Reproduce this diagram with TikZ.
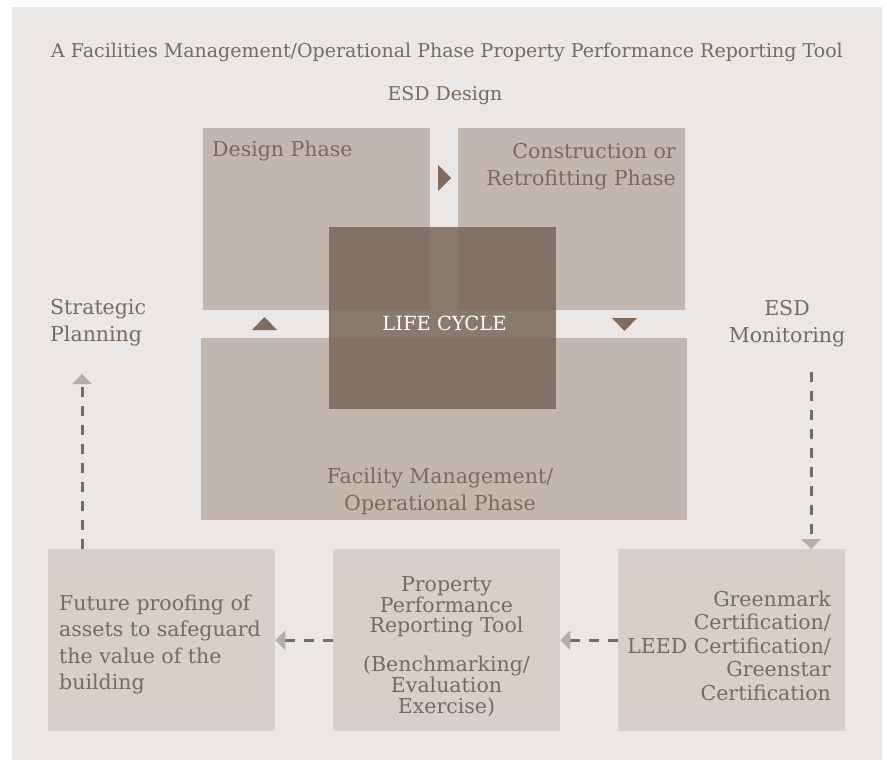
\documentclass[tikz,border=0pt]{standalone}
\usepackage{fontspec}
\setmainfont{DejaVu Serif}
\usetikzlibrary{arrows.meta}

\definecolor{page}{HTML}{FFFFFF}
\definecolor{panel}{HTML}{EBE7E4}
\definecolor{phase}{HTML}{C2B7AE}
\definecolor{core}{HTML}{766557}
\definecolor{lowbox}{HTML}{D6CFCA}
\definecolor{ink}{HTML}{7A6A5D}
\definecolor{marker}{HTML}{7E6C5F}
\definecolor{dashink}{HTML}{6E6C6C}
\definecolor{tipfill}{HTML}{B8ADA4}

\begin{document}
\begin{tikzpicture}[x=1pt,y=-1pt,
  block/.style={draw=none, inner sep=0pt, anchor=north west,
    minimum width=227pt, minimum height=182pt},
  phasebox/.style={block, fill=phase},
  stagebox/.style={block, fill=lowbox},
  corebox/.style={block, fill=core, fill opacity=0.83},
  % multi-line labels are placed by the baseline of their last line
  txt/.style={inner sep=0pt, text=ink, font=\fontsize{20.5}{27}\selectfont},
  headtxt/.style={inner sep=0pt, text=ink, font=\fontsize{19}{22}\selectfont},
  conn/.style={draw=dashink, line width=3pt, dash pattern=on 10pt off 9pt,
    -{Triangle[length=10pt, width=20pt, color=tipfill, line width=0pt]}},
  marktri/.style={fill=marker, draw=none}
]
% canvas and panel
\useasboundingbox (0,0) rectangle (887,760);
\fill[page] (0,0) rectangle (887,760);
\fill[panel] (12,7) rectangle (882,760);

% headings
\node[headtxt, anchor=base] (title) at (447,58)
  {A Facilities Management/Operational Phase Property Performance Reporting Tool};
\node[headtxt, anchor=base] (esddesign) at (445,100) {ESD Design};

% life-cycle phases
\node[phasebox, minimum width=486pt] (facility) at (201,338) {};
\node[phasebox] (design) at (203,128) {};
\node[phasebox] (construct) at (458,128) {};

\node[txt, anchor=base west] (designlbl) at (212,157) {Design Phase};
\node[txt, anchor=base east, align=right] (constructlbl) at (676,185)
  {Construction or\\Retrofitting Phase};
\node[txt, anchor=base, align=center] (facilitylbl) at (440,510)
  {Facility Management/\\Operational Phase};

% cycle direction markers
\fill[marktri] (438,165) -- (451,178) -- (438,191) -- cycle;
\fill[marktri] (612,318) -- (637,318) -- (624.5,331) -- cycle;
\fill[marktri] (252,330) -- (264.5,317) -- (277,330) -- cycle;

% centre block
\node[corebox] (core) at (329,227) {};
\node[txt, text=white, anchor=base, font=\fontsize{19.5}{24}\selectfont]
  (corelbl) at (444.5,330) {LIFE CYCLE};

% side labels
\node[txt, anchor=base west, align=left] (strategic) at (50,341)
  {Strategic\\Planning};
\node[txt, anchor=base, align=center] (monitoring) at (787,342)
  {ESD\\Monitoring};

% reporting stages
\node[stagebox] (future) at (48,549) {};
\node[stagebox] (tool) at (333,549) {};
\node[stagebox] (cert) at (618,549) {};

\node[txt, anchor=base west, align=left,
  font=\fontsize{20.5}{26.5}\selectfont] (futurelbl) at (59,689.5)
  {Future proofing of\\assets to safeguard\\the value of the\\building};
\node[txt, anchor=base, align=center,
  font=\fontsize{20.5}{20.75}\selectfont] (toollbl) at (446.5,713)
  {Property\\Performance\\Reporting Tool\\[18pt](Benchmarking/\\Evaluation\\Exercise)};
\node[txt, anchor=base east, align=right,
  font=\fontsize{20.5}{23.5}\selectfont] (certlbl) at (831,700)
  {Greenmark\\Certification/\\LEED Certification/\\Greenstar\\Certification};

% flow connectors
\coordinate (strategic-tip) at (82,374);
\coordinate (monitor-start) at (811,372);
\draw[conn] (monitor-start) -- (monitor-start |- cert.north);
\draw[conn] (cert.west) -- (tool.east);
\draw[conn] (tool.west) -- (future.east);
\draw[conn] (future.north -| strategic-tip) -- (strategic-tip);
\end{tikzpicture}
\end{document}
